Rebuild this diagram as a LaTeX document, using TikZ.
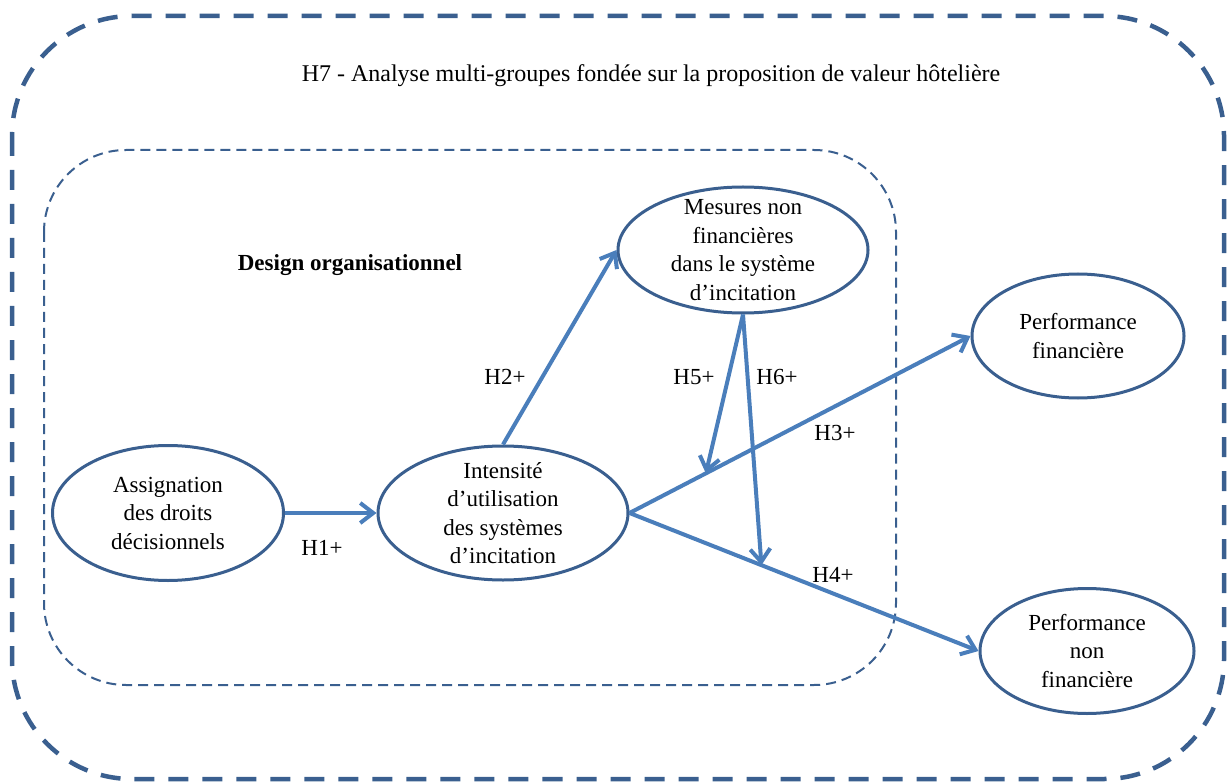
\documentclass[tikz,border=0pt]{standalone}
\usepackage{fontspec}
\setmainfont{Liberation Serif}
\usetikzlibrary{shapes.geometric, arrows.meta}
\definecolor{frameblue}{HTML}{3A5F8F}
\definecolor{arrowblue}{HTML}{4A7EBB}
\tikzset{
  latent/.style={ellipse, draw=frameblue, line width=3pt, align=center, inner xsep=0pt, inner ysep=-12pt},
  hyp/.style={draw=arrowblue, line width=4pt, -{Straight Barb[length=13pt 0, width=20pt 0]}},
  lbl/.style={inner sep=0pt},
}

\begin{document}
\begin{tikzpicture}[x=1pt, y=-1pt, font=\fontsize{23}{28.5}\selectfont]
\useasboundingbox (0,0) rectangle (1228,783);
\draw[frameblue, line width=4.5pt, dash pattern=on 20pt off 14pt, rounded corners=120pt](12,16) rectangle (1224,779);
\draw[frameblue, line width=2pt, dash pattern=on 10pt off 6pt, rounded corners=82pt](44,150) rectangle (896,685);

\node[lbl, font=\fontsize{24}{28.5}\selectfont](H7) at (651,76) {H7 - Analyse multi-groupes fondée sur la proposition de valeur hôtelière};
\node[lbl, font=\fontsize{23}{28.5}\selectfont\bfseries](DO) at (350,265) {Design organisationnel};

\node[latent, minimum width=231, minimum height=135](ADD) at (168,513) {Assignation\\des droits\\décisionnels};
\node[latent, minimum width=250, minimum height=134](INT) at (503,513) {Intensité\\d’utilisation\\des systèmes\\d’incitation};
\node[latent, minimum width=250, minimum height=126](MNF) at (743,250) {Mesures non\\financières\\dans le système\\d’incitation};
\node[latent, minimum width=212, minimum height=124](PF) at (1078,336) {Performance\\financière};
\node[latent, minimum width=214, minimum height=125](PNF) at (1087,651) {Performance\\non\\financière};

\path(ADD)edge[hyp](INT);
\path(INT.north)edge[hyp](MNF.west);
\path(INT.east)edge[hyp]coordinate[pos=0.224](m3)(PF.west);
\path(INT.east)edge[hyp]coordinate[pos=0.378](m4)(PNF.west);
\path(MNF.south)edge[hyp](m3);
\path(MNF.south)edge[hyp](m4);

\node[lbl](L1) at (322,548) {H1+};
\node[lbl](L2) at (505,377) {H2+};
\node[lbl](L3) at (835,433) {H3+};
\node[lbl](L4) at (833,575) {H4+};
\node[lbl](L5) at (694,377) {H5+};
\node[lbl](L6) at (777,377) {H6+};
\end{tikzpicture}
\end{document}
